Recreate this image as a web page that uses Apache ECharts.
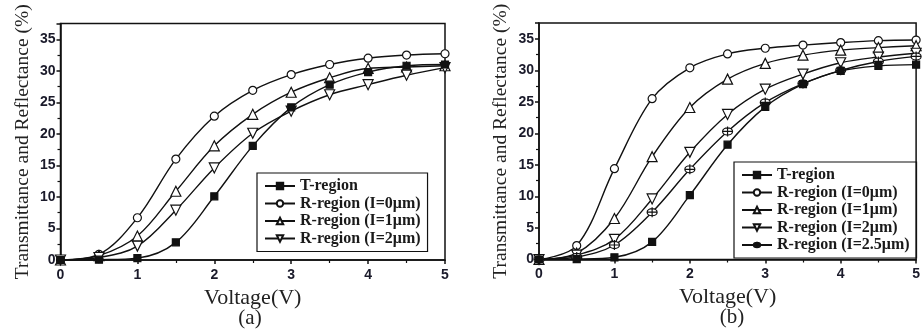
<!DOCTYPE html>
<html>
<head>
<meta charset="utf-8">
<script src="https://cdn.jsdelivr.net/npm/echarts@6/dist/echarts.min.js"></script>
<style>
  html, body { margin: 0; padding: 0; background: #fff; }
  #chart { width: 923px; height: 333px; }
</style>
</head>
<body>
<div id="chart"></div>
<script>
// voltage steps (V)
const volts = [0, 0.5, 1, 1.5, 2, 2.5, 3, 3.5, 4, 4.5, 5]

// panel (a)
const tRegionA = [0, 0.05, 0.3, 2.8, 10.1, 18.1, 24.2, 27.8, 29.8, 30.8, 31.0]
const r0A = [0, 0.9, 6.7, 16.0, 22.8, 26.9, 29.4, 31.0, 32.0, 32.5, 32.7]
const r1A = [0, 0.7, 3.8, 10.9, 18.1, 23.1, 26.6, 28.9, 30.4, 30.6, 30.8]
const r2A = [0, 0.4, 2.2, 7.9, 14.6, 20.1, 23.6, 26.2, 27.8, 29.3, 30.5]

// panel (b)
const tRegionB = [0, 0.05, 0.35, 2.8, 10.2, 18.2, 24.2, 27.8, 29.9, 30.7, 30.9]
const r0B = [0, 2.2, 14.4, 25.5, 30.4, 32.6, 33.5, 34.0, 34.4, 34.7, 34.8]
const r1B = [0, 1.0, 6.5, 16.3, 24.1, 28.6, 31.1, 32.4, 33.2, 33.6, 33.9]
const r2B = [0, 0.7, 3.2, 9.6, 17.0, 23.0, 27.0, 29.4, 31.2, 32.1, 32.7]
const r25B = [0, 0.4, 2.3, 7.5, 14.3, 20.3, 24.9, 27.9, 30.0, 31.4, 32.2]

const names = ['T-region', 'R-region (I=0μm)', 'R-region (I=1μm)', 'R-region (I=2μm)', 'R-region (I=2.5μm)']

const ink = '#111'
const serif = 'Liberation Serif'
const sans = 'Liberation Sans'
const crossCircle = 'path://M0,-5A5,5 0 1 1 0,5A5,5 0 1 1 0,-5Z M0,-7L0,7 M-5,0L5,0'

const pairs = (ys) => volts.map((v, i) => [v, ys[i]])

const marks = {
  square: { symbol: 'rect', symbolSize: 7, fill: ink, rotate: 0 },
  circle: { symbol: 'circle', symbolSize: 8, fill: '#fff', rotate: 0 },
  up: { symbol: 'triangle', symbolSize: 10, fill: '#fff', rotate: 0 },
  down: { symbol: 'triangle', symbolSize: 10, fill: '#fff', rotate: 180 },
  cross: { symbol: crossCircle, symbolSize: 10, fill: '#fff', rotate: 0 },
}

const makeSeries = (name, ys, m, idx) => ({
  name: name,
  type: 'line',
  xAxisIndex: idx,
  yAxisIndex: idx,
  data: pairs(ys),
  smooth: 0.35,
  symbol: m.symbol,
  symbolSize: m.symbolSize,
  symbolRotate: m.rotate,
  showAllSymbol: true,
  lineStyle: { color: ink, width: 1.4 },
  itemStyle: { color: m.fill, borderColor: ink, borderWidth: 1.2 },
  emphasis: { disabled: true },
  z: m.fill === ink ? 3 : 2,
})

const xAxisBase = (idx) => ({
  type: 'value',
  gridIndex: idx,
  min: 0,
  max: 5,
  interval: 1,
  name: 'Voltage(V)',
  nameLocation: 'middle',
  nameGap: 24,
  nameTextStyle: { fontFamily: serif, fontSize: 22, color: '#222' },
  axisLine: { lineStyle: { color: ink, width: 1.5 } },
  axisTick: { inside: false, length: 4, lineStyle: { color: ink, width: 1.5 } },
  minorTick: { show: true, splitNumber: 2, length: 3, lineStyle: { color: ink, width: 1.2 } },
  axisLabel: { fontFamily: sans, fontWeight: 'bold', fontSize: 14, color: '#1a1a2a', margin: 8 },
  splitLine: { show: false },
})

const yAxisBase = (idx) => ({
  type: 'value',
  gridIndex: idx,
  min: 0,
  max: 37.5,
  interval: 5,
  name: 'Transmittance and Reflectance (%)',
  nameLocation: 'middle',
  nameGap: 28,
  nameTextStyle: { fontFamily: serif, fontSize: 19.5, color: '#222' },
  axisLine: { lineStyle: { color: ink, width: 1.5 } },
  axisTick: { inside: false, length: 4, lineStyle: { color: ink, width: 1.5 } },
  minorTick: { show: true, splitNumber: 2, length: 3, lineStyle: { color: ink, width: 1.2 } },
  axisLabel: { fontFamily: sans, fontWeight: 'bold', fontSize: 14, color: '#1a1a2a', margin: 5, showMaxLabel: false },
  splitLine: { show: false },
})

const legendBase = (left, top, data) => ({
  orient: 'vertical',
  left: left,
  top: top,
  data: data,
  selectedMode: false,
  borderColor: ink,
  borderWidth: 1.2,
  borderRadius: 0,
  padding: [5, 7, 5, 7],
  itemWidth: 30,
  itemHeight: 8,
  itemGap: 1.5,
  textStyle: { fontFamily: serif, fontWeight: 'bold', fontSize: 16, color: '#1a1a1a' },
})

const option = {
  animation: false,
  grid: [
    { left: 60.5, top: 23.5, width: 384.5, height: 236.5, show: true, borderColor: ink, borderWidth: 1.5 },
    { left: 539, top: 23, width: 384, height: 236.5, show: true, borderColor: ink, borderWidth: 1.5 },
  ],
  xAxis: [xAxisBase(0), xAxisBase(1)],
  yAxis: [yAxisBase(0), yAxisBase(1)],
  legend: [
    legendBase(257, 173, names.slice(0, 4)),
    legendBase(734, 162, names),
  ],
  graphic: [
    { type: 'text', x: 250, y: 308, style: { text: '(a)', font: '21px "Liberation Serif"', fill: '#222', align: 'center' } },
    { type: 'text', x: 732, y: 307, style: { text: '(b)', font: '21px "Liberation Serif"', fill: '#222', align: 'center' } },
  ],
  series: [
    makeSeries(names[0], tRegionA, marks.square, 0),
    makeSeries(names[1], r0A, marks.circle, 0),
    makeSeries(names[2], r1A, marks.up, 0),
    makeSeries(names[3], r2A, marks.down, 0),
    makeSeries(names[0], tRegionB, marks.square, 1),
    makeSeries(names[1], r0B, marks.circle, 1),
    makeSeries(names[2], r1B, marks.up, 1),
    makeSeries(names[3], r2B, marks.down, 1),
    makeSeries(names[4], r25B, marks.cross, 1),
  ],
}

const chart = echarts.init(document.getElementById('chart'))
chart.setOption(option)
</script>
</body>
</html>
